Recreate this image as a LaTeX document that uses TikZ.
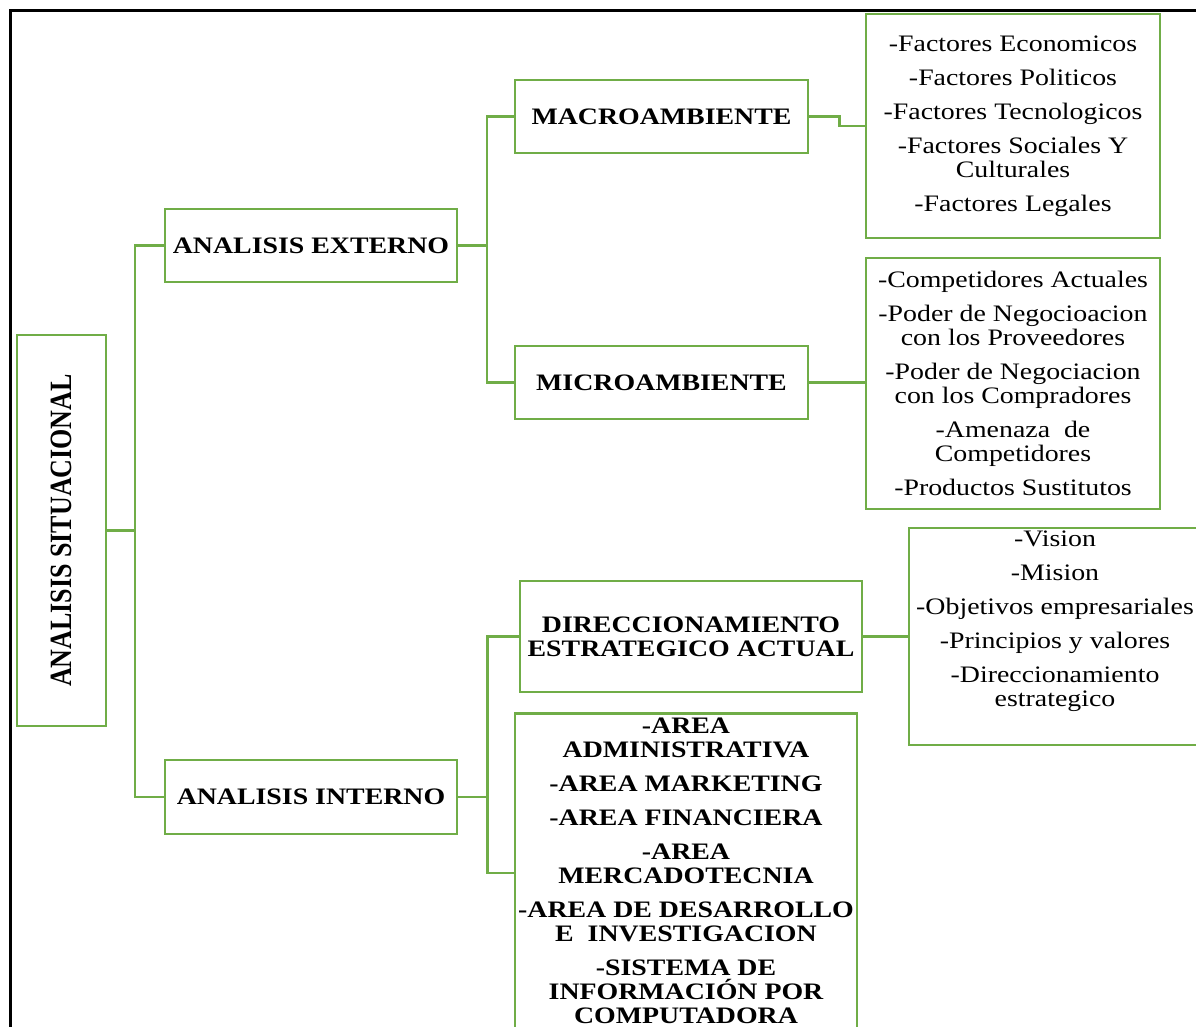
\documentclass[tikz,border=0pt]{standalone}
\usepackage{fontspec}
\setmainfont{Liberation Serif}[FakeStretch=1.18]
\newfontfamily\sitfont{Liberation Serif}
\usetikzlibrary{positioning}
\definecolor{boxgreen}{RGB}{112,173,71}

\begin{document}
\begin{tikzpicture}[x=1pt, y=-1pt,
		box/.style={draw=boxgreen, line width=2.5pt, inner sep=0pt, align=center},
		head/.style={box, font=\fontsize{23.6}{24}\selectfont\bfseries},
		list/.style={box, font=\fontsize{23.6}{24}\selectfont},
		txt/.style={inner xsep=0pt, align=center},
		link/.style={draw=boxgreen, line width=2.5pt}]

			% Frame
			\clip (0,0) rectangle (1196,1027);
			\draw[line width=3pt] (10,11) rectangle (1300,1200);

			% Root
			\node[box, minimum width=89pt, minimum height=391pt] (sit) at (61.5,530.5)
				{\rotatebox{90}{\scalebox{1}[1.19]{\sitfont\bfseries\fontsize{26}{26}\selectfont ANALISIS SITUACIONAL}}};

			% Nodes for the first level
			\node[head, minimum width=292pt, minimum height=73pt] (ext) at (311,245.5) {ANALISIS EXTERNO};
			\node[head, minimum width=292pt, minimum height=74pt] (int) at (311,797) {ANALISIS INTERNO};

			% Nodes for Analisis Externo
			\node[head, minimum width=293pt, minimum height=73pt] (macro) at (661.5,116.5) {MACROAMBIENTE};
			\node[head, minimum width=293pt, minimum height=73pt] (micro) at (661.5,382.5) {MICROAMBIENTE};
			\node[list, minimum width=294pt, minimum height=224pt] (fact) at (1013,126)
				{-Factores Economicos\\[10pt]-Factores Politicos\\[10pt]-Factores Tecnologicos\\[10pt]-Factores Sociales Y\\Culturales\\[10pt]-Factores Legales};
			\node[list, minimum width=294pt, minimum height=251pt] (comp) at (1013,383.5)
				{-Competidores Actuales\\[10pt]-Poder de Negocioacion\\con los Proveedores\\[10pt]-Poder de Negociacion\\con los Compradores\\[10pt]-Amenaza~ de\\Competidores\\[10pt]-Productos Sustitutos};

			% Nodes for Analisis Interno
			\node[head, minimum width=342pt, minimum height=111pt] (dir) at (691,636.5) {DIRECCIONAMIENTO\\ESTRATEGICO ACTUAL};
			\node[box, minimum width=292pt, minimum height=217pt] (vision) at (1055,636.5) {};
			\node[txt, anchor=north, inner ysep=4.4pt, font=\fontsize{23.6}{24}\selectfont] (visiontxt) at (vision.north)
				{-Vision\\[10pt]-Mision\\[10pt]-Objetivos empresariales\\[10pt]-Principios y valores\\[10pt]-Direccionamiento\\estrategico};
			\node[box, minimum width=342pt, minimum height=420pt, anchor=north] (area) at (686,712) {};
			\node[txt, anchor=north, inner ysep=6pt, font=\fontsize{23.6}{24}\selectfont\bfseries] (areatxt) at (area.north)
				{-AREA\\ADMINISTRATIVA\\[10pt]-AREA MARKETING\\[10pt]-AREA FINANCIERA\\[10pt]-AREA\\MERCADOTECNIA\\[10pt]-AREA DE DESARROLLO\\E~ INVESTIGACION\\[10pt]-SISTEMA DE\\INFORMACIÓN POR\\COMPUTADORA};

			% Connectors
			\coordinate (j1) at (135,530.5);
			\coordinate (j2) at (487,245.5);
			\coordinate (j3) at (487.5,797);
			\coordinate (areain) at (515,873);
			\draw[link] (sit.east) -- (j1);
			\draw[link] (ext.west) -| (j1) |- (int.west);
			\draw[link] (ext.east) -- (j2);
			\draw[link] (macro.west) -| (j2) |- (micro.west);
			\draw[link] (int.east) -- (j3);
			\draw[link] (dir.west) -| (j3) |- (areain);
			\draw[link] (macro.east) -- ++(30,0) |- (fact.west);
			\draw[link] (micro.east) -- (micro.east -| comp.west);
			\draw[link] (dir.east) -- (dir.east -| vision.west);
		\end{tikzpicture}
\end{document}
